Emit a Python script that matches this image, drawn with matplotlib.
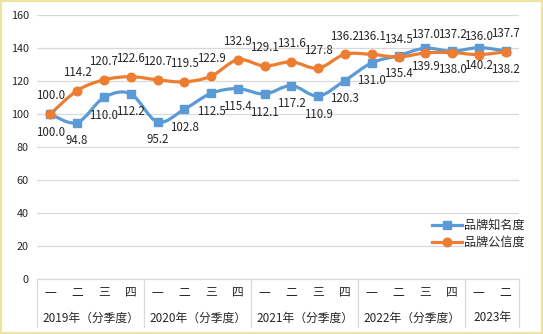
import numpy as np
import matplotlib
matplotlib.use("Agg")
import matplotlib.pyplot as plt
from matplotlib.path import Path
from matplotlib.patches import PathPatch, Rectangle
from matplotlib.lines import Line2D

plt.rcParams['font.family'] = ['Noto Sans CJK SC', 'DejaVu Sans']

# Quarterly index values (2019 Q1 = 100)
quarters = ['一', '二', '三', '四'] * 4 + ['一', '二']
years = ['2019年（分季度）', '2020年（分季度）', '2021年（分季度）',
         '2022年（分季度）', '2023年']
year_sizes = [4, 4, 4, 4, 2]
awareness = [100.0, 94.8, 110.0, 112.2, 95.2, 102.8, 112.5, 115.4, 112.1,
             117.2, 110.9, 120.3, 131.0, 135.4, 139.9, 138.0, 140.2, 138.2]
credibility = [100.0, 114.2, 120.7, 122.6, 120.7, 119.5, 122.9, 132.9, 129.1,
               131.6, 127.8, 136.2, 136.1, 134.5, 137.0, 137.2, 136.0, 137.7]
series_names = ['品牌知名度', '品牌公信度']
y_ticks = [0, 20, 40, 60, 80, 100, 120, 140, 160]

BLUE = '#5B9BD5'
ORANGE = '#ED7D31'
GRID = '#D9D9D9'
TEXT = '#262626'


def smooth_path(xs, ys):
    """Cubic Bezier path through the points (Catmull-Rom style smoothing)."""
    pts = np.column_stack([xs, ys]).astype(float)
    n = len(pts)
    verts = [pts[0]]
    codes = [Path.MOVETO]
    for i in range(n - 1):
        p0 = pts[i - 1] if i > 0 else pts[i]
        p3 = pts[i + 2] if i + 2 < n else pts[i + 1]
        c1 = pts[i] + (pts[i + 1] - p0) / 6.0
        c2 = pts[i + 1] - (p3 - pts[i]) / 6.0
        verts += [c1, c2, pts[i + 1]]
        codes += [Path.CURVE4] * 3
    return Path(verts, codes)


fig = plt.figure(figsize=(5.43, 3.34), dpi=100)
ax = fig.add_axes([37 / 543, 1 - 279 / 334, (519 - 37) / 543, (279 - 15) / 334])

x = np.arange(len(quarters))
ax.set_xlim(-0.5, len(quarters) - 0.5)
ax.set_ylim(0, 160)

for s in ax.spines.values():
    s.set_visible(False)
ax.set_yticks(y_ticks)
ax.yaxis.grid(True, color=GRID, lw=0.9)
ax.set_axisbelow(True)
ax.tick_params(axis='y', length=0, pad=6, labelsize=7.8, labelcolor=TEXT)
ax.set_xticks([])

# series: smoothed line + markers
for vals, color, marker, ms in [(awareness, BLUE, 's', 5.5),
                                (credibility, ORANGE, 'o', 6.2)]:
    ax.add_patch(PathPatch(smooth_path(x, vals), facecolor='none',
                           edgecolor=color, lw=2.3, capstyle='round',
                           joinstyle='round', zorder=3))
    ax.plot(x, vals, ls='none', marker=marker, ms=ms, color=color,
            markeredgecolor=color, zorder=4)

# data labels: credibility above, awareness below
for xi, v in zip(x, credibility):
    ax.annotate(f'{v:.1f}', (xi, v), xytext=(0, 13), textcoords='offset points',
                ha='center', va='center', fontsize=8.3, color=TEXT, zorder=5)
for xi, v in zip(x, awareness):
    ax.annotate(f'{v:.1f}', (xi, v), xytext=(0, -13), textcoords='offset points',
                ha='center', va='center', fontsize=8.3, color=TEXT, zorder=5)

# two-level category axis
tr = ax.get_xaxis_transform()
ah = 264.0
for xi, q in zip(x, quarters):
    ax.text(xi, -14 / ah, q, transform=tr, ha='center', va='center',
            fontsize=8.5, color=TEXT, clip_on=False)
bounds = [-0.5]
for n in year_sizes:
    bounds.append(bounds[-1] + n)
for i, yl in enumerate(years):
    ax.text((bounds[i] + bounds[i + 1]) / 2, -39 / ah, yl, transform=tr,
            ha='center', va='center', fontsize=8.5, color=TEXT, clip_on=False)
for b in bounds:
    ax.plot([b, b], [0, -48 / ah], transform=tr, color=GRID, lw=0.9,
            clip_on=False)
ax.plot([bounds[0], bounds[-1]], [0, 0], transform=tr, color=GRID, lw=0.9,
        clip_on=False)

# legend
handles = [Line2D([], [], color=BLUE, lw=2.3, marker='s', ms=5.5),
           Line2D([], [], color=ORANGE, lw=2.3, marker='o', ms=6.2)]
fig.legend(handles, series_names, loc='upper left',
           bbox_to_anchor=(432 / 543, 1 - 219 / 334), frameon=False,
           fontsize=8.7, handlelength=2.5, handletextpad=0.15,
           borderpad=0, borderaxespad=0, labelspacing=0.35,
           labelcolor=TEXT)

# outer border
fig.patches.append(Rectangle((0, 0), 1, 1, transform=fig.transFigure,
                             fill=False, edgecolor='#EFE3A0', lw=3))

fig.savefig('out.png', dpi=100)
